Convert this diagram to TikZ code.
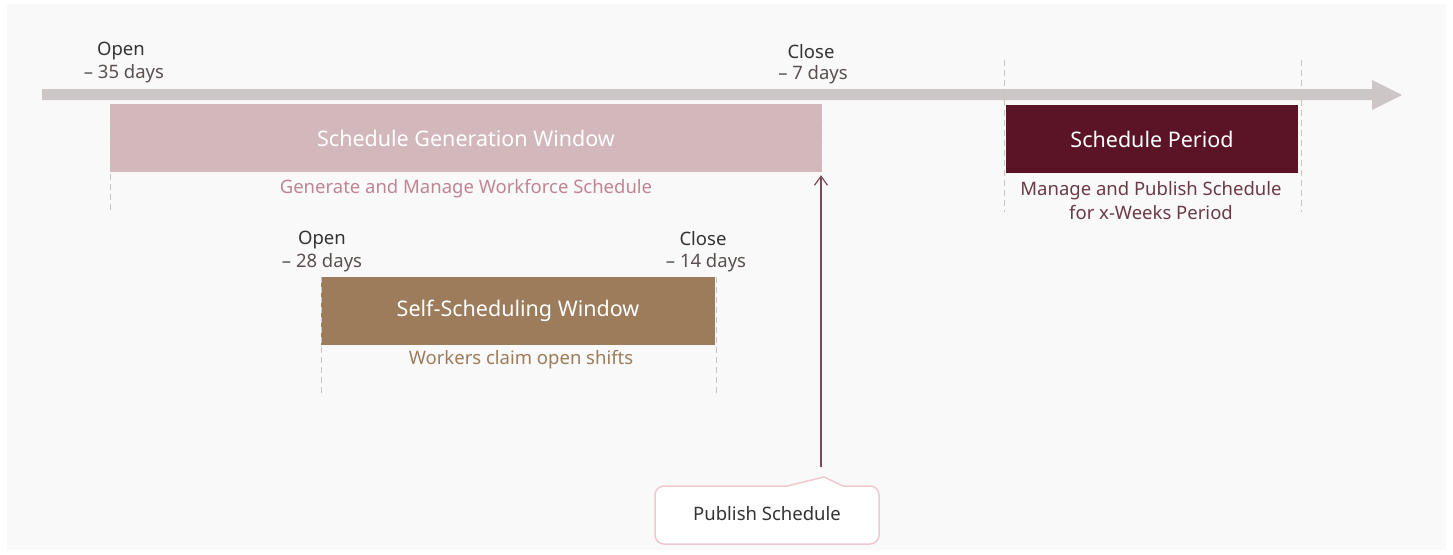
\documentclass[tikz,border=0pt]{standalone}
\usepackage{fontspec}
\setmainfont{Noto Sans}
\usepackage{tikz}
\usetikzlibrary{arrows.meta}
\definecolor{panel}{RGB}{249, 249, 249}
\definecolor{axis}{RGB}{204, 198, 198}
\definecolor{genfill}{RGB}{211, 184, 187}
\definecolor{gentext}{RGB}{192, 133, 149}
\definecolor{selffill}{RGB}{156, 124, 90}
\definecolor{perfill}{RGB}{90, 20, 38}
\definecolor{pertext}{RGB}{106, 58, 71}
\definecolor{marktext}{RGB}{51, 51, 51}
\definecolor{daytext}{RGB}{90, 80, 80}
\definecolor{guide}{RGB}{200, 196, 196}
\definecolor{publine}{RGB}{122, 74, 87}
\definecolor{pubedge}{RGB}{238, 201, 207}
\newcommand*{\boxh}{68pt}

\begin{document}
\begin{tikzpicture}[
   x=1pt, y=-1pt,
   winbox/.style={rectangle, draw=none, text=white, inner sep=0,
                  minimum height=\boxh, font=\fontsize{21.5}{25}\selectfont},
   subtext/.style={inner sep=0, align=center, font=\fontsize{18.5}{24}\selectfont},
   marklabel/.style={inner sep=0, text=marktext, font=\fontsize{18.5}{22}\selectfont},
   daylabel/.style={inner sep=0, text=daytext, font=\fontsize{18.5}{22}\selectfont},
   guideline/.style={draw=guide, line width=1, dash pattern=on 6pt off 4pt},
   pubbox/.style={rectangle, draw=none, inner sep=0, text=marktext,
                  font=\fontsize{18.5}{22}\selectfont}
  ]

  % Panel
  \path[use as bounding box, fill=white] (0,0) rectangle (1453,554);
  \fill[panel] (7,4) rectangle (1446,550);

  % Time axis
  \fill[axis] (42,89) -- (1372,89) -- (1372,80) -- (1402,95) -- (1372,110)
    -- (1372,100) -- (42,100) -- cycle;

  % Windows
  \node (gen) at (466,138) [winbox, fill=genfill, minimum width=712] {Schedule Generation Window};
  \node (per) at (1152,139) [winbox, fill=perfill, minimum width=292] {Schedule Period};
  \node (self) at (518,311) [winbox, fill=selffill, minimum width=394] {Self-Scheduling Window};

  % Guides
  \foreach \gx/\ga/\gb in {110/104/212, 1004/60/212, 1301/60/212, 321/277/393, 716/277/393} {
    \draw[guideline] (\gx,\ga) -- (\gx,\gb);
  }
  \draw[draw=white, line width=1, dash pattern=on 6pt off 4pt] (gen.north east) -- (gen.south east);

  % Subtitles
  \node (gensub) at (466,189) [subtext, text=gentext] {Generate and Manage Workforce Schedule};
  \node (persub) at (1151,201) [subtext, text=pertext] {Manage and Publish Schedule\\for x-Weeks Period};
  \node (selfsub) at (521,360) [subtext, text=selffill] {Workers claim open shifts};

  % Open / Close marks
  \node (genopen) at (121,51) [marklabel] {Open};
  \node (genopend) at (124,74) [daylabel] {– 35 days};
  \node (genclose) at (811,52) [marklabel] {Close};
  \node (genclosed) at (813,75) [daylabel] {– 7 days};
  \node (selfopen) at (322,240) [marklabel] {Open};
  \node (selfopend) at (322,263) [daylabel] {– 28 days};
  \node (selfclose) at (703,239) [marklabel] {Close};
  \node (selfclosed) at (706,263) [daylabel] {– 14 days};

  % Publish callout
  \draw[draw=pubedge, line width=1.5, fill=white]
    (824,477) -- (843,486) [rounded corners=9] -- (879,486) -- (879,544)
    -- (655,544) -- (655,486) [sharp corners] -- (787,486) -- cycle;
  \node (pub) at (767,514) [pubbox] {Publish Schedule};
  \coordinate (pubtip) at (821,467);
  \draw[-{Straight Barb[length=9pt, width=13pt]}, draw=publine, line width=1.2,
        shorten >=3pt] (pubtip) -- (pubtip |- gen.south east);

\end{tikzpicture}
\end{document}
